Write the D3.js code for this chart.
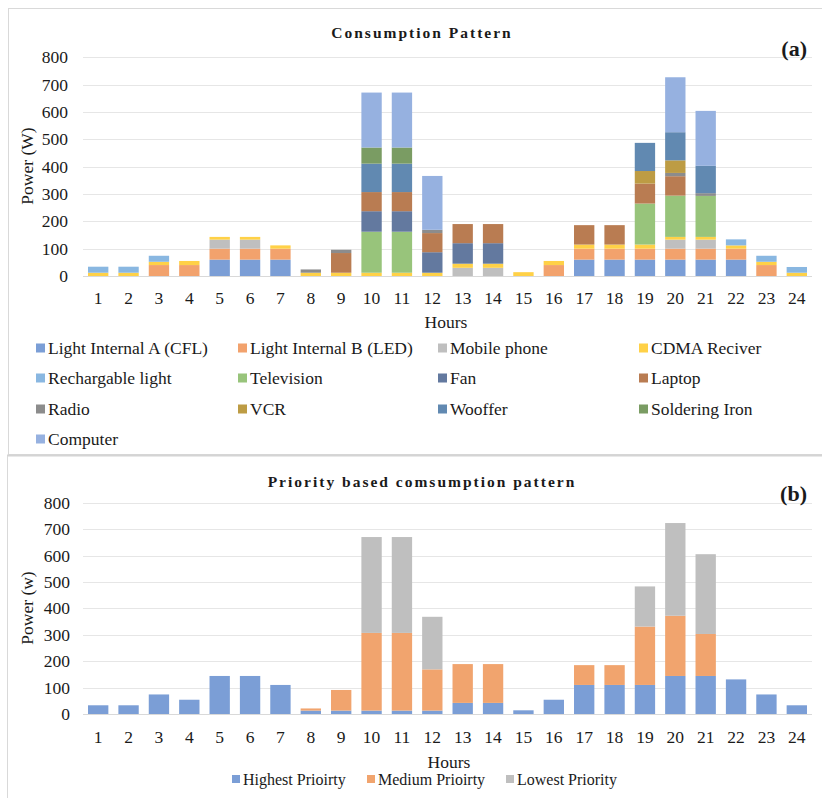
<!DOCTYPE html>
<html>
<head>
<meta charset="utf-8">
<script src="https://cdn.jsdelivr.net/npm/d3@7/dist/d3.min.js"></script>
<style>
  html, body { margin: 0; padding: 0; background: #fff; }
  svg text { font-family: "Liberation Serif", "Times New Roman", serif; fill: #1a1a1a; }
</style>
</head>
<body>
<svg id="chart" width="822" height="798"></svg>
<script>
// ---------- DATA ----------
const hours = d3.range(1, 25);
const yTicks = [0, 100, 200, 300, 400, 500, 600, 700, 800];

const applianceNames = ["Light Internal A (CFL)", "Light Internal B (LED)", "Mobile phone", "CDMA Reciver",
  "Rechargable light", "Television", "Fan", "Laptop", "Radio", "VCR", "Wooffer", "Soldering Iron", "Computer"];
const applianceColors = ["#7b9ed6", "#f2a26d", "#bfbfbf", "#ffd147", "#89b7e1", "#98c47b", "#63799f", "#b97c52",
  "#8c8c8c", "#bd9c44", "#6189b1", "#7a9c63", "#96b1e0"];

const lightA      = [0,0,0,0,60,60,60,0,0,0,0,0,0,0,0,0,60,60,60,60,60,60,0,0];
const lightB      = [0,0,40,40,40,40,40,0,0,0,0,0,0,0,0,40,40,40,40,40,40,40,40,0];
const mobile      = [0,0,0,0,33,33,0,0,0,0,0,0,30,30,0,0,0,0,0,33,33,0,0,0];
const cdma        = [12,12,12,15,10,10,12,12,12,12,12,12,15,15,14,15,15,15,15,10,10,12,12,12];
const rechargable = [22,22,22,0,0,0,0,0,0,0,0,0,0,0,0,0,0,0,0,0,0,22,22,21];
const television  = [0,0,0,0,0,0,0,0,0,150,150,0,0,0,0,0,0,0,150,151,150,0,0,0];
const fan         = [0,0,0,0,0,0,0,0,0,75,75,75,75,75,0,0,0,0,0,0,0,0,0,0];
const laptop      = [0,0,0,0,0,0,0,0,72,70,70,70,70,70,0,0,71,71,73,71,0,0,0,0];
const radio       = [0,0,0,0,0,0,0,12,12,0,0,12,0,0,0,0,0,0,0,12,10,0,0,0];
const vcr         = [0,0,0,0,0,0,0,0,0,0,0,0,0,0,0,0,0,0,46,46,0,0,0,0];
const wooffer     = [0,0,0,0,0,0,0,0,0,104,104,0,0,0,0,0,0,0,103,103,100,0,0,0];
const soldering   = [0,0,0,0,0,0,0,0,0,59,59,0,0,0,0,0,0,0,0,0,0,0,0,0];
const computer    = [0,0,0,0,0,0,0,0,0,201,201,197,0,0,0,0,0,0,0,201,201,0,0,0];

const priorityNames  = ["Highest Prioirty", "Medium Prioirty", "Lowest Priority"];
const priorityColors = ["#7b9ed6", "#f1a46e", "#bfbfbf"];
const highest = [33,33,74,54,144,144,110,13,13,13,13,13,42,42,14,54,110,110,110,144,144,131,74,33];
const medium  = [0,0,0,0,0,0,0,8,78,294,294,156,147,147,0,0,75,75,221,228,159,0,0,0];
const lowest  = [0,0,0,0,0,0,0,0,0,363,363,199,0,0,0,0,0,0,152,351,302,0,0,0];

// ---------- BUILD TABLES ----------
const applianceSeries = [lightA, lightB, mobile, cdma, rechargable, television, fan, laptop, radio, vcr, wooffer, soldering, computer];
const topRows = hours.map((h, i) => {
  const r = { hour: h };
  applianceNames.forEach((n, k) => r[n] = applianceSeries[k][i]);
  return r;
});
const prioritySeries = [highest, medium, lowest];
const botRows = hours.map((h, i) => {
  const r = { hour: h };
  priorityNames.forEach((n, k) => r[n] = prioritySeries[k][i]);
  return r;
});

const svg = d3.select("#chart");

// panel frames
svg.append("rect").attr("x", 8.5).attr("y", 8.5).attr("width", 830).attr("height", 446)
  .attr("fill", "none").attr("stroke", "#d9d9d9").attr("stroke-width", 1);
svg.append("line").attr("x1", 7).attr("x2", 822).attr("y1", 455.5).attr("y2", 455.5)
  .attr("stroke", "#d4d4d4").attr("stroke-width", 2);
svg.append("line").attr("x1", 7.5).attr("x2", 7.5).attr("y1", 456).attr("y2", 798)
  .attr("stroke", "#d9d9d9").attr("stroke-width", 1);

function drawChart(cfg) {
  const g = svg.append("g");
  const x = d3.scaleBand().domain(hours).range([83, 812]).paddingInner(0.33).paddingOuter(0.165);
  const y = d3.scaleLinear().domain([0, 800]).range([cfg.y0, cfg.y800]);

  // gridlines
  g.append("g").selectAll("line").data(yTicks.filter(t => t > 0)).join("line")
    .attr("x1", 83).attr("x2", 812)
    .attr("y1", d => Math.round(y(d)) + 0.5).attr("y2", d => Math.round(y(d)) + 0.5)
    .attr("stroke", "#e6e6e6").attr("stroke-width", 1);

  // bars
  const stack = d3.stack().keys(cfg.keys)(cfg.rows);
  g.append("g").selectAll("g").data(stack).join("g")
    .attr("fill", (d, i) => cfg.colors[i])
    .selectAll("rect").data(d => d.filter(p => p[1] - p[0] > 0)).join("rect")
    .attr("x", d => x(d.data.hour))
    .attr("width", x.bandwidth())
    .attr("y", d => y(d[1]))
    .attr("height", d => y(d[0]) - y(d[1]));

  // baseline
  g.append("line").attr("x1", 83).attr("x2", 812)
    .attr("y1", Math.round(y(0)) + 0.5).attr("y2", Math.round(y(0)) + 0.5)
    .attr("stroke", "#d9d9d9").attr("stroke-width", 1);

  // axes
  const ax = g.append("g").attr("transform", `translate(0,${y(0)})`)
    .call(d3.axisBottom(x).tickSize(0).tickPadding(cfg.xPad));
  ax.select(".domain").remove();
  ax.selectAll("text").attr("font-size", 17.5).attr("font-family", "Liberation Serif").attr("fill", "#1a1a1a");

  const ay = g.append("g").attr("transform", `translate(83,0)`)
    .call(d3.axisLeft(y).tickValues(yTicks).tickSize(0).tickPadding(cfg.yPad));
  ay.select(".domain").remove();
  ay.selectAll("text").attr("font-size", 17.5).attr("font-family", "Liberation Serif").attr("fill", "#1a1a1a");

  // titles
  g.append("text").attr("x", cfg.titleX).attr("y", cfg.titleY).attr("text-anchor", "middle")
    .attr("font-size", 15.5).attr("font-weight", "bold").attr("letter-spacing", 2)
    .text(cfg.title);
  g.append("text").attr("x", 807).attr("y", cfg.tagY).attr("text-anchor", "end")
    .attr("font-size", 22).attr("font-weight", "bold").text(cfg.tag);

  g.append("text").attr("transform", `translate(${cfg.yLabelX},${cfg.yLabelY}) rotate(-90)`)
    .attr("text-anchor", "middle").attr("dy", "0.35em").attr("font-size", 17.5).text(cfg.yLabel);
  g.append("text").attr("x", cfg.xLabelX).attr("y", cfg.xLabelY).attr("text-anchor", "middle")
    .attr("dy", "0.35em").attr("font-size", 17.5).text("Hours");
  return g;
}

drawChart({
  rows: topRows, keys: applianceNames, colors: applianceColors,
  y0: 276, y800: 57.3, xPad: 16, yPad: 15,
  title: "Consumption Pattern", titleX: 422, titleY: 38,
  tag: "(a)", tagY: 56,
  yLabel: "Power (W)", yLabelX: 27, yLabelY: 166,
  xLabelX: 446, xLabelY: 322
});

drawChart({
  rows: botRows, keys: priorityNames, colors: priorityColors,
  y0: 714, y800: 502.7, xPad: 17, yPad: 13,
  title: "Priority based comsumption pattern", titleX: 422, titleY: 487,
  tag: "(b)", tagY: 501,
  yLabel: "Power (w)", yLabelX: 27, yLabelY: 608,
  xLabelX: 449, xLabelY: 762
});

// top legend (4 columns)
const legColX = [36, 238, 438, 639];
const legRowY = [348, 378, 409, 439];
const lg = svg.append("g").selectAll("g").data(applianceNames).join("g")
  .attr("transform", (d, i) => `translate(${legColX[i % 4]},${legRowY[Math.floor(i / 4)]})`);
lg.append("rect").attr("x", 0).attr("y", -4.5).attr("width", 9).attr("height", 9)
  .attr("fill", (d, i) => applianceColors[i]);
lg.append("text").attr("x", 12).attr("dy", "0.35em").attr("font-size", 17.5).text(d => d);

// bottom legend
const bLegX = [232, 367, 506];
const bl = svg.append("g").selectAll("g").data(priorityNames).join("g")
  .attr("transform", (d, i) => `translate(${bLegX[i]},779)`);
bl.append("rect").attr("x", 0).attr("y", -4).attr("width", 8).attr("height", 8)
  .attr("fill", (d, i) => priorityColors[i]);
bl.append("text").attr("x", 11).attr("dy", "0.35em").attr("font-size", 16).text(d => d);
</script>
</body>
</html>
